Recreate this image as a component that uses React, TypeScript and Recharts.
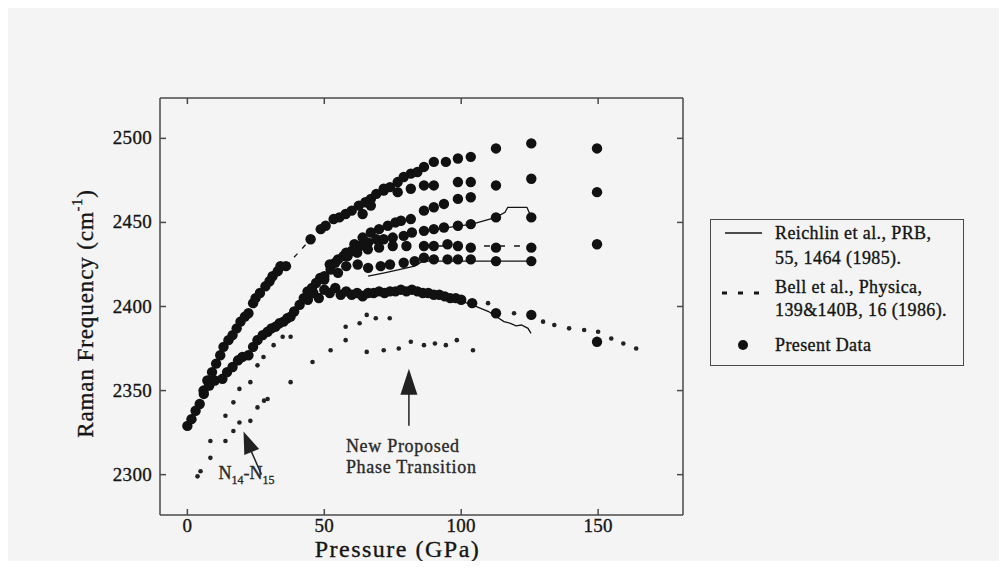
import React from 'react';
import { ScatterChart, Scatter, XAxis, YAxis, Label, Legend, ReferenceDot } from 'recharts';

const INK = '#151515';
const FRAME = '#4a4a4a';
const SERIF = '"Liberation Serif", "Times New Roman", Times, serif';

const xTicks = [0, 50, 100, 150];
const yTicks = [2300, 2350, 2400, 2450, 2500];

// Present data, one array per branch: [pressure (GPa), Raman shift (cm-1)]
const presentTop = [
  [0, 2329], [1.5, 2333], [3, 2338], [4.5, 2342], [6, 2348], [7.3, 2356], [9, 2361], [10.5, 2366],
  [12, 2371], [13.2, 2376], [15, 2380], [16.5, 2383], [18, 2387], [19.4, 2391], [21, 2394], [22.3, 2396],
  [24, 2402], [24.9, 2405], [26.5, 2408], [28.5, 2412], [30, 2415], [31.1, 2418], [33, 2421], [34, 2424],
  [36, 2424], [45, 2440], [48.7, 2446], [50.5, 2448], [53.4, 2452], [55.5, 2453], [57.8, 2455], [60, 2457],
  [62.6, 2460], [65, 2462], [67, 2464], [69, 2467], [71.7, 2470], [74, 2471], [76.8, 2474], [79, 2477],
  [81.6, 2479], [84, 2480], [86.4, 2483], [90, 2486], [94.4, 2486], [98.8, 2488], [103.5, 2489],
  [112.7, 2494], [125.6, 2497], [149.6, 2494],
];
const presentLower = [
  [5.9, 2350], [8, 2353], [10, 2356], [12.8, 2357], [14.5, 2361], [16.5, 2364], [18.5, 2368], [20.1, 2370],
  [22.3, 2371], [24, 2376], [25.6, 2380], [27.5, 2383], [29.3, 2385], [30.7, 2387], [32.2, 2388], [33.6, 2390],
  [35.1, 2391], [36.5, 2393], [37.7, 2394], [39, 2397], [41, 2401], [42.5, 2405], [43.9, 2409], [45.5, 2411],
  [47, 2414], [48.5, 2417], [50, 2416],
];
const presentMain = [
  [44, 2404], [46, 2408], [48, 2405], [50, 2410], [52, 2408], [54, 2411], [56, 2407], [58, 2409], [60, 2407],
  [62, 2408], [64, 2406], [66, 2408], [68, 2408], [70, 2409], [72, 2408], [74, 2409], [76, 2409], [78, 2410],
  [80, 2409], [82, 2410], [84, 2409], [86, 2408], [88, 2408], [90, 2407], [92, 2407], [94, 2406], [96, 2405],
  [98, 2405], [100, 2404], [104, 2402], [112.7, 2396], [125.6, 2395], [149.6, 2379],
];
const present2428 = [
  [50, 2418], [52.3, 2422], [55, 2420], [58, 2424], [62.2, 2425], [66, 2423], [70.6, 2424], [74, 2425],
  [79, 2426], [83, 2427], [86.4, 2429], [90, 2428], [95, 2428], [98.8, 2428], [103.5, 2428], [112.7, 2427],
  [125.6, 2427],
];
const present2436 = [
  [52, 2425], [55, 2428], [58.5, 2430], [62, 2432], [65.9, 2434], [70, 2435], [75, 2436], [80, 2436],
  [86.4, 2436], [90, 2436], [95, 2437], [98.8, 2436], [103.5, 2435], [112.7, 2435], [125.6, 2435], [149.6, 2437],
];
const present2445 = [
  [54, 2426], [57, 2430], [60, 2433], [63, 2436], [66, 2438], [69, 2440], [71.7, 2440], [75, 2441], [79, 2442],
  [82, 2444], [86.4, 2445], [90, 2446], [93.7, 2447], [98.8, 2448], [103.5, 2449], [112.7, 2453], [125.6, 2453],
];
const present2460 = [
  [58, 2432], [61, 2437], [64, 2441], [67, 2444], [70, 2446], [73.2, 2448], [76, 2450], [78, 2451], [81.6, 2452],
  [86.4, 2457], [90, 2459], [93.7, 2461], [98.8, 2464], [103.5, 2465],
];
const present2470 = [
  [64, 2455], [67, 2460], [71.7, 2469], [76.8, 2468], [81.6, 2470], [86.4, 2472], [90, 2472], [98.8, 2474],
  [103.5, 2474], [112.7, 2472], [125.6, 2476], [149.6, 2468],
];

// Reichlin et al. (solid curves)
const reichlinStep = [[86.4, 2445], [104, 2449], [112.7, 2453], [116, 2456], [117, 2459], [124, 2459], [125.6, 2453]];
const reichlinFlat = [[66, 2418], [72, 2420], [83, 2424], [86, 2427], [126, 2427]];
const reichlinMain = [
  [38, 2398], [42, 2403], [46, 2407], [55, 2409], [70, 2409], [84, 2408], [95, 2406], [104, 2401], [110, 2397],
  [115.6, 2391], [118, 2390], [120, 2388.5], [122, 2389], [124.4, 2387], [125.5, 2384],
];

// Bell et al. (dashed / small marks)
const bellUpper = [[13.9, 2335], [16.8, 2343], [19, 2351], [23, 2355], [25.6, 2365], [27.8, 2370], [31.5, 2377], [34.8, 2382], [37.7, 2382]];
const bellLower = [
  [3.7, 2299], [4.8, 2302], [8.4, 2310], [8.4, 2320], [13.9, 2320], [16.8, 2326], [19, 2331], [23, 2332],
  [25.6, 2340], [28, 2344], [29.3, 2345], [37.7, 2355], [45.7, 2367], [52.3, 2374], [57.8, 2380], [57.8, 2388],
  [62.9, 2390], [65.5, 2395], [68.8, 2393], [73.9, 2393],
];
const bellFlat = [[65.5, 2373], [71.7, 2374], [77.2, 2375], [81.6, 2379], [86.4, 2377], [90.4, 2378], [94.4, 2377], [98.4, 2380], [104.3, 2374]];
const bellTail = [[104, 2402], [109.8, 2402], [119.3, 2396], [129.9, 2391], [134, 2389], [139.4, 2387], [144.9, 2386], [150, 2385], [154.8, 2381], [159.2, 2378], [163.9, 2375]];
const bellDash2436 = [[86.4, 2436], [125.6, 2436]];
const bellDashTop = [[36, 2424], [45, 2440]];

const toPts = (rows: number[][]) => rows.map(([x, y]) => ({ x, y }));

const BigDot = (p: any) => <circle cx={p.cx} cy={p.cy} r={5.2} fill="#111" />;
const SmallDot = (p: any) => <circle cx={p.cx} cy={p.cy} r={2.3} fill="#222" />;
const NoDot = () => <g />;

// scanned type looks heavy, so a hairline stroke thickens the glyphs a little
const textInk = { fill: INK, stroke: INK, strokeWidth: 0.35, fontFamily: SERIF };

const BottomTick = ({ x, y, payload }: any) => (
  <g>
    <line x1={x} x2={x} y1={y} y2={y - 6} stroke={FRAME} strokeWidth={1.5} />
    <text x={x} y={y + 17} textAnchor="middle" fontSize={19} letterSpacing={0.3} {...textInk}>
      {payload.value}
    </text>
  </g>
);
const TopTick = ({ x, y }: any) => <line x1={x} x2={x} y1={y} y2={y + 6} stroke={FRAME} strokeWidth={1.5} />;
const LeftTick = ({ x, y, payload }: any) => (
  <g>
    <line x1={x} x2={x + 6} y1={y} y2={y} stroke={FRAME} strokeWidth={1.5} />
    <text x={x - 8} y={y + 6} textAnchor="end" fontSize={19} letterSpacing={0.3} {...textInk}>
      {payload.value}
    </text>
  </g>
);
const RightTick = ({ x, y }: any) => <line x1={x} x2={x - 6} y1={y} y2={y} stroke={FRAME} strokeWidth={1.5} />;

const XTitle = ({ viewBox }: any) => (
  <text x={viewBox.x + viewBox.width / 2 - 24} y={viewBox.y + 42} textAnchor="middle" fontSize={24}
    letterSpacing={1.5} {...textInk}>
    Pressure (GPa)
  </text>
);
const YTitle = ({ viewBox }: any) => {
  const cx = viewBox.x + 15;
  const cy = viewBox.y + viewBox.height / 2 + 7;
  return (
    <text transform={`translate(${cx},${cy}) rotate(-90)`} textAnchor="middle" dominantBaseline="central"
      fontSize={23} letterSpacing={0.9} {...textInk}>
      Raman Frequency (cm<tspan dy={-8} fontSize={14}>-1</tspan><tspan dy={8}>)</tspan>
    </text>
  );
};

const PhaseNote = ({ cx, cy }: any) => (
  <g>
    <path d={`M${cx},${cy} L${cx - 8.5},${cy + 26} L${cx + 8.5},${cy + 26} Z`} fill="#222" />
    <line x1={cx} x2={cx} y1={cy + 20} y2={cy + 57} stroke="#222" strokeWidth={1.5} />
    <text x={cx - 63} y={cy + 83} fontSize={18} letterSpacing={0.7} {...textInk} fill="#2a2a2a" stroke="#2a2a2a">New Proposed</text>
    <text x={cx - 63} y={cy + 104} fontSize={18} letterSpacing={0.7} {...textInk} fill="#2a2a2a" stroke="#2a2a2a">Phase Transition</text>
  </g>
);
const IsotopeNote = ({ cx, cy }: any) => (
  <g>
    <path d={`M${cx},${cy} L${cx + 15.6},${cy + 17.4} L${cx + 0.8},${cy + 23.4} Z`} fill="#222" />
    <line x1={cx + 7} y1={cy + 18} x2={cx + 18} y2={cy + 43} stroke="#222" strokeWidth={1.5} />
    <text x={cx - 25} y={cy + 47} fontSize={18} {...textInk} fill="#2a2a2a" stroke="#2a2a2a">
      N<tspan dy={5} fontSize={12}>14</tspan><tspan dy={-5}>-N</tspan><tspan dy={5} fontSize={12}>15</tspan>
    </text>
  </g>
);

const legendRow: React.CSSProperties = { position: 'absolute', left: 64, lineHeight: '24px', whiteSpace: 'nowrap' };

const renderLegend = () => (
  <div style={{ position: 'relative', width: 254, height: 147, boxSizing: 'border-box', border: `1.5px solid ${FRAME}`,
    fontFamily: SERIF, fontSize: 18, letterSpacing: 0.4, color: INK, WebkitTextStroke: '0.35px #151515' }}>
    <svg width={60} height={147} style={{ position: 'absolute', left: 0, top: 0 }}>
      <line x1={14} x2={51} y1={13} y2={13} stroke={INK} strokeWidth={1.5} />
      <line x1={11} x2={54} y1={73} y2={73} stroke={INK} strokeWidth={3} strokeDasharray="5 11" />
      <circle cx={32} cy={125} r={5} fill="#111" />
    </svg>
    <div style={{ ...legendRow, top: 1 }}>Reichlin et al., PRB,</div>
    <div style={{ ...legendRow, top: 26 }}>55, 1464 (1985).</div>
    <div style={{ ...legendRow, top: 55 }}>Bell et al., Physica,</div>
    <div style={{ ...legendRow, top: 78 }}>139&amp;140B, 16 (1986).</div>
    <div style={{ ...legendRow, top: 113 }}>Present Data</div>
  </div>
);

export default function App() {
  return (
    <div style={{ position: 'relative', margin: -8, width: 1007, height: 569, background: '#f4f4f4', overflow: 'hidden' }}>
      <ScatterChart width={1007} height={569} margin={{ top: 88, right: 314, bottom: 4, left: 70 }}>
        <XAxis dataKey="x" type="number" domain={[-10, 181]} ticks={xTicks} allowDataOverflow height={50}
          axisLine={{ stroke: FRAME, strokeWidth: 1.5 }} tickLine={false} tickSize={0} tickMargin={0} tick={<BottomTick />}>
          <Label content={<XTitle />} />
        </XAxis>
        <XAxis xAxisId="top" orientation="top" dataKey="x" type="number" domain={[-10, 181]} ticks={xTicks}
          allowDataOverflow height={10} axisLine={{ stroke: FRAME, strokeWidth: 1.5 }} tickLine={false} tickSize={0}
          tickMargin={0} tick={<TopTick />} />
        <YAxis dataKey="y" type="number" domain={[2276, 2524]} ticks={yTicks} allowDataOverflow width={90}
          axisLine={{ stroke: FRAME, strokeWidth: 1.5 }} tickLine={false} tickSize={0} tickMargin={0} tick={<LeftTick />}>
          <Label content={<YTitle />} />
        </YAxis>
        <YAxis yAxisId="right" orientation="right" dataKey="y" type="number" domain={[2276, 2524]} ticks={yTicks}
          allowDataOverflow width={10} axisLine={{ stroke: FRAME, strokeWidth: 1.5 }} tickLine={false} tickSize={0}
          tickMargin={0} tick={<RightTick />} />

        <Legend layout="horizontal" verticalAlign="middle" align="center" content={renderLegend}
          wrapperStyle={{ position: 'absolute', left: 710, top: 219, width: 254, height: 147 }} />

        <Scatter name="Reichlin step" data={toPts(reichlinStep)} shape={NoDot} line={{ stroke: INK, strokeWidth: 1.3 }} isAnimationActive={false} />
        <Scatter name="Reichlin flat" data={toPts(reichlinFlat)} shape={NoDot} line={{ stroke: INK, strokeWidth: 1.3 }} isAnimationActive={false} />
        <Scatter name="Reichlin main" data={toPts(reichlinMain)} shape={NoDot} line={{ stroke: INK, strokeWidth: 1.3 }} isAnimationActive={false} />
        <Scatter name="Bell 2436" data={toPts(bellDash2436)} shape={NoDot} line={{ stroke: INK, strokeWidth: 1.5, strokeDasharray: '6 9' }} isAnimationActive={false} />
        <Scatter name="Bell top" data={toPts(bellDashTop)} shape={NoDot} line={{ stroke: INK, strokeWidth: 1.3, strokeDasharray: '5 7' }} isAnimationActive={false} />

        <Scatter name="Bell upper" data={toPts(bellUpper)} shape={SmallDot} isAnimationActive={false} />
        <Scatter name="Bell lower" data={toPts(bellLower)} shape={SmallDot} isAnimationActive={false} />
        <Scatter name="Bell flat" data={toPts(bellFlat)} shape={SmallDot} isAnimationActive={false} />
        <Scatter name="Bell tail" data={toPts(bellTail)} shape={SmallDot} isAnimationActive={false} />

        <Scatter name="Present top" data={toPts(presentTop)} shape={BigDot} isAnimationActive={false} />
        <Scatter name="Present lower" data={toPts(presentLower)} shape={BigDot} isAnimationActive={false} />
        <Scatter name="Present main" data={toPts(presentMain)} shape={BigDot} isAnimationActive={false} />
        <Scatter name="Present 2428" data={toPts(present2428)} shape={BigDot} isAnimationActive={false} />
        <Scatter name="Present 2436" data={toPts(present2436)} shape={BigDot} isAnimationActive={false} />
        <Scatter name="Present 2445" data={toPts(present2445)} shape={BigDot} isAnimationActive={false} />
        <Scatter name="Present 2460" data={toPts(present2460)} shape={BigDot} isAnimationActive={false} />
        <Scatter name="Present 2470" data={toPts(present2470)} shape={BigDot} isAnimationActive={false} />

        <ReferenceDot x={80.9} y={2363} shape={PhaseNote} ifOverflow="visible" />
        <ReferenceDot x={20.5} y={2325.6} shape={IsotopeNote} ifOverflow="visible" />
      </ScatterChart>
    </div>
  );
}
